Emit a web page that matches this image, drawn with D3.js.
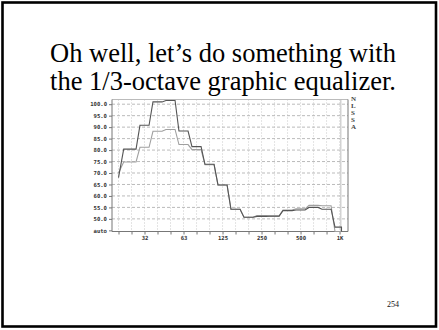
<!DOCTYPE html>
<html>
<head>
<meta charset="utf-8">
<script src="https://cdn.jsdelivr.net/npm/d3@7/dist/d3.min.js"></script>
<style>
  html, body { margin: 0; padding: 0; background: #fff; }
  svg { display: block; }
</style>
</head>
<body>
<script>
// 1/3-octave band centres shown on the equalizer
const bands = ["20", "25", "31.5", "40", "50", "63", "80", "100", "125",
               "160", "200", "250", "315", "400", "500", "630", "800", "1K"];
// bands that carry a frequency label, and the label shown
const bandLabels = { "31.5": "32", "63": "63", "125": "125", "250": "250", "500": "500", "1K": "1K" };
// level of each band (dB), two settings
const levelsA = [68, 80.4, 90.8, 101.0, 101.6, 88.3, 81.5, 73.8, 64.8, 54.2,
                 50.7, 51.1, 51.2, 53.6, 53.9, 55.0, 54.2, 46.4];
const levelsB = [70, 74.8, 81.2, 88.2, 89.0, 82.4, 80.2, 73.6, 64.8, 54.2,
                 50.7, 51.5, 51.2, 53.9, 54.4, 55.9, 55.7, 44.5];
// level axis ticks; 45 is the "auto" floor
const levelTicks = [45, 50, 55, 60, 65, 70, 75, 80, 85, 90, 95, 100];
const legendLetters = ["N", "L", "S", "S", "A"];
const titleLines = ["Oh well, let\u2019s do something with", "the 1/3-octave graphic equalizer."];
const pageNumber = "254";

const SERIF = '"Liberation Serif"';
const MONO = '"DejaVu Sans Mono"';

const W = 439, H = 330;
const svg = d3.select("body").append("svg").attr("width", W).attr("height", H);

// slide frame
svg.append("rect").attr("x", 2.5).attr("y", 2.5).attr("width", 433.5).attr("height", 324)
  .attr("fill", "#fff").attr("stroke", "#000").attr("stroke-width", 2.6);

svg.append("g").selectAll("text").data(titleLines).join("text")
  .attr("x", 223).attr("y", (d, i) => 61.5 + i * 28.3)
  .attr("text-anchor", "middle")
  .style("font-family", SERIF).style("font-size", "26.5px").attr("fill", "#000")
  .text(d => d);

svg.append("text").attr("x", 393).attr("y", 307).attr("text-anchor", "middle")
  .style("font-family", SERIF).style("font-size", "8px").attr("fill", "#111")
  .text(pageNumber);

// plot box
const L = 112, R = 348, T = 99.5, B = 231.5;
const x = d3.scaleLinear().domain([-0.5, 17.65]).range([L, R]);
const y = d3.scaleLinear().domain([44.5, 102.05]).range([B, T]);

// grid
const grid = svg.append("g");
grid.selectAll("line.h").data(levelTicks.filter(v => v > 45)).join("line")
  .attr("x1", L).attr("x2", R).attr("y1", d => y(d)).attr("y2", d => y(d))
  .attr("stroke", "#aaa").attr("stroke-width", 0.8).attr("stroke-dasharray", "3,2");
grid.selectAll("line.v").data(bands).join("line")
  .attr("x1", (d, i) => x(i)).attr("x2", (d, i) => x(i)).attr("y1", T).attr("y2", B)
  .attr("stroke", "#bbb").attr("stroke-width", 0.8).attr("stroke-dasharray", "1,2");

// frame lines
svg.append("line").attr("x1", L).attr("x2", R).attr("y1", T).attr("y2", T).attr("stroke", "#bbb");
svg.append("line").attr("x1", x(17.1)).attr("x2", x(17.1)).attr("y1", T).attr("y2", B).attr("stroke", "#bbb");
svg.append("line").attr("x1", R).attr("x2", R).attr("y1", T).attr("y2", B).attr("stroke", "#777");

// axes
const yAxis = d3.axisLeft(y).tickValues(levelTicks).tickSize(3).tickPadding(2)
  .tickFormat(d => d === 45 ? "auto" : d3.format(".1f")(d));
const gy = svg.append("g").attr("transform", `translate(${L},0)`).call(yAxis);
gy.select(".domain").attr("stroke", "#777").attr("d", `M0,${T}V${B}`);
gy.selectAll(".tick line").attr("stroke", "#777");
gy.selectAll(".tick text").style("font-family", MONO).style("font-weight", "bold")
  .style("font-size", "5.6px").attr("fill", "#333");

const xAxis = d3.axisBottom(x).tickValues(d3.range(bands.length)).tickSize(3).tickPadding(2)
  .tickFormat(i => bandLabels[bands[i]] || "");
const gx = svg.append("g").attr("transform", `translate(0,${B})`).call(xAxis);
gx.select(".domain").attr("stroke", "#777").attr("d", `M${L},0H${R}`);
gx.selectAll(".tick line").attr("stroke", "#777");
gx.selectAll(".tick text").style("font-family", MONO).style("font-weight", "bold")
  .style("font-size", "5.6px").attr("fill", "#333");

// step outline of the band levels: first band as a point, others as flats with short ramps
function stepPoints(levels) {
  const g = 0.15;
  const pts = [[0, levels[0]]];
  for (let i = 1; i < levels.length; i++) {
    const a = i === 1 ? 0.4 : i - 0.5 + g;
    const b = i === levels.length - 1 ? i + g : i + 0.5 - g;
    pts.push([a, levels[i]], [b, levels[i]]);
  }
  pts.push([levels.length - 1 + g, y.domain()[0]]);
  return pts;
}
const line = d3.line().x(d => x(d[0])).y(d => y(d[1]));

svg.append("path").datum(stepPoints(levelsB)).attr("d", line)
  .attr("fill", "none").attr("stroke", "#a0a0a0").attr("stroke-width", 1.1);
svg.append("path").datum(stepPoints(levelsA)).attr("d", line)
  .attr("fill", "none").attr("stroke", "#555").attr("stroke-width", 1.1);

// legend letters beside the plot
svg.append("g").selectAll("text").data(legendLetters).join("text")
  .attr("x", R + 3).attr("y", (d, i) => T + 1.5 + i * 7)
  .style("font-family", SERIF).style("font-size", "7px").style("font-weight", "bold").attr("fill", "#444")
  .text(d => d);
</script>
</body>
</html>
